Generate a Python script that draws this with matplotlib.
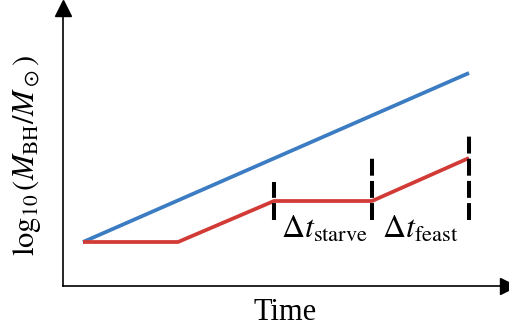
import matplotlib
matplotlib.use("Agg")
import matplotlib.pyplot as plt

plt.rcParams["font.family"] = "Liberation Serif"
plt.rcParams["mathtext.fontset"] = "stix"

# schematic growth tracks (arbitrary units)
blue_t = [20, 406]
blue_m = [44, 213]
red_t = [20, 115, 211, 309, 406]
red_m = [44, 44, 85, 85, 128]
# dashed markers bounding the starve / feast intervals
mark_t = [211, 309, 406]
mark_lo = [66, 66, 66]
mark_hi = [104, 128, 152]
labels = [r"$\Delta t_{\rm starve}$", r"$\Delta t_{\rm feast}$"]
label_t = [261, 357]

BLUE = "#3b7cc2"
RED = "#d23a36"

fig = plt.figure(figsize=(5.10, 3.27), dpi=100)
ax = fig.add_axes([63 / 510, 41 / 327, 445 / 510, 278 / 327])
ax.set_xlim(0, 445)
ax.set_ylim(0, 278)
for s in ["top", "right"]:
    ax.spines[s].set_visible(False)
for s in ["left", "bottom"]:
    ax.spines[s].set_linewidth(1.2)
ax.set_xticks([])
ax.set_yticks([])

# arrow heads
ax.plot(1, 0, ">k", ms=11, transform=ax.transAxes, clip_on=False)
ax.plot(0, 1, "^k", ms=11, transform=ax.transAxes, clip_on=False)

ax.plot(blue_t, blue_m, color=BLUE, lw=2.7, solid_capstyle="butt")
ax.plot(red_t, red_m, color=RED, lw=2.7, solid_capstyle="butt")
for t, lo, hi in zip(mark_t, mark_lo, mark_hi):
    ax.plot([t, t], [lo, hi], color="black", lw=2.9, ls=(0, (4.2, 1.3)), zorder=3)

for t, s in zip(label_t, labels):
    ax.text(t, 48, s, ha="center", va="baseline", fontsize=23)

ax.set_xlabel("Time", fontsize=22, labelpad=9)
ax.set_ylabel(r"$\log_{10}(M_{\rm BH}/M_\odot)$", fontsize=22)
ax.yaxis.set_label_coords(-20 / 445, 0.468)

fig.savefig("out.png", dpi=100)
